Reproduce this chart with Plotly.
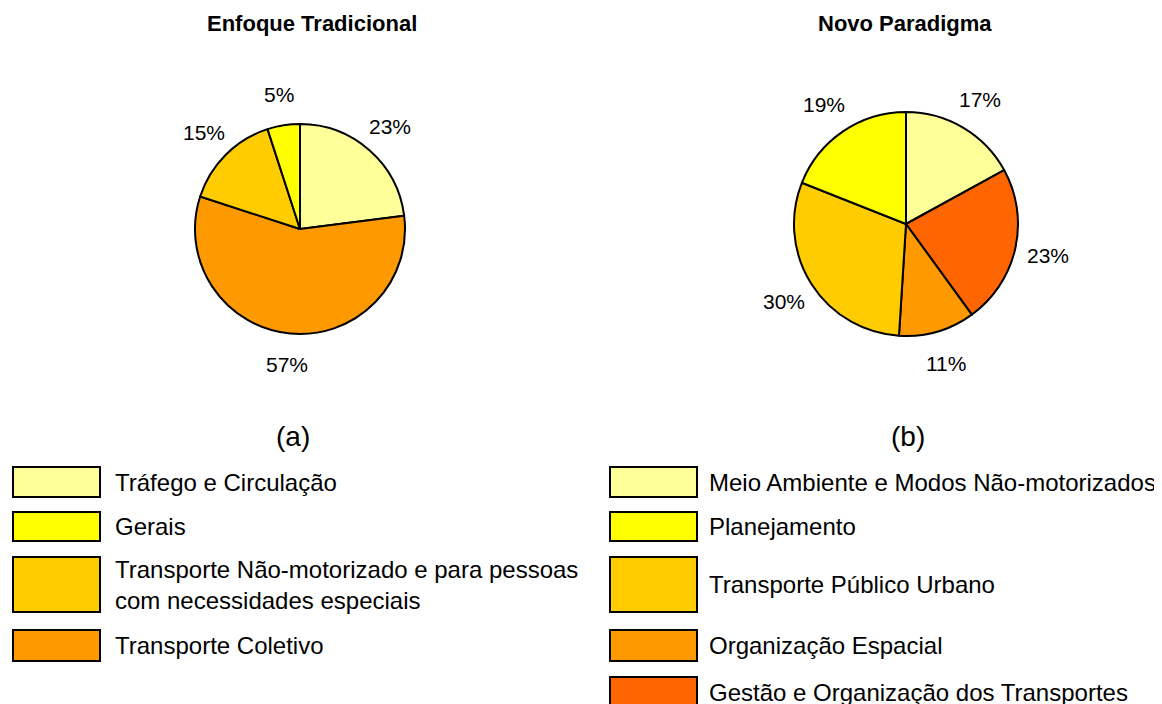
import math
import plotly.graph_objects as go

W, H = 1162, 704
OFF = 8  # page body margin in the browser

# Data
left_labels = ["Tráfego e Circulação", "Transporte Coletivo",
               "Transporte Não-motorizado e para pessoas<br>com necessidades especiais", "Gerais"]
left_values = [23, 57, 15, 5]
left_colors = ["#FFFF99", "#FF9900", "#FFCC00", "#FFFF00"]

right_labels = ["Meio Ambiente e Modos Não-motorizados", "Gestão e Organização dos Transportes",
                "Organização Espacial", "Transporte Público Urbano", "Planejamento"]
right_values = [17, 23, 11, 30, 19]
right_colors = ["#FFFF99", "#FF6600", "#FF9900", "#FFCC00", "#FFFF00"]

left_legend_order = [0, 3, 2, 1]
right_legend_order = [0, 4, 3, 2, 1]

FONT = "Liberation Sans, Arial, sans-serif"


def px(x):
    return (x - OFF) / W


def py(y):
    return 1 - (y - OFF) / H


fig = go.Figure()

annotations = []
shapes = []


def add_pie(labels, values, colors, cx, cy, r, label_gap):
    fig.add_trace(go.Pie(
        labels=labels, values=values, sort=False, direction="clockwise", rotation=0,
        marker=dict(colors=colors, line=dict(color="black", width=2)),
        textinfo="none",
        domain=dict(x=[px(cx - r), px(cx + r)], y=[py(cy + r), py(cy - r)]),
        showlegend=False, hoverinfo="label+percent",
    ))
    total = sum(values)
    cum = 0
    for v in values:
        mid = (cum + v / 2) / total * 2 * math.pi
        cum += v
        lx = cx + (r + label_gap) * math.sin(mid)
        ly = cy - (r + label_gap) * math.cos(mid)
        annotations.append(dict(text=f"{round(v / total * 100)}%", x=px(lx), y=py(ly),
                                xref="paper", yref="paper", xanchor="center", yanchor="middle",
                                showarrow=False, font=dict(family=FONT, size=21, color="black")))


add_pie(left_labels, left_values, left_colors, 300, 229, 105, 31)
add_pie(right_labels, right_values, right_colors, 906, 224, 112, 33)

# Titles
for txt, x, y, size in [("<b>Enfoque Tradicional</b>", 312, 24, 22),
                        ("<b>Novo Paradigma</b>", 905, 24, 22),
                        ("(a)", 293, 436, 28),
                        ("(b)", 908, 436, 28)]:
    annotations.append(dict(text=txt, x=px(x), y=py(y), xref="paper", yref="paper",
                            xanchor="center", yanchor="middle", showarrow=False,
                            font=dict(family=FONT, size=size, color="black")))

# Legends
left_rows = [(467, 497), (512, 541), (557, 612), (630, 661)]
right_rows = [(467, 497), (512, 541), (557, 612), (630, 661), (677, 708)]


def add_legend(order, labels, colors, rows, x0, x1, tx):
    for idx, (y0, y1) in zip(order, rows):
        shapes.append(dict(type="rect", xref="paper", yref="paper",
                           x0=px(x0), x1=px(x1), y0=py(y1), y1=py(y0),
                           fillcolor=colors[idx], line=dict(color="black", width=2)))
        annotations.append(dict(text=labels[idx], x=px(tx), y=py((y0 + y1) / 2),
                                xref="paper", yref="paper", xanchor="left", yanchor="middle",
                                align="left", showarrow=False,
                                font=dict(family=FONT, size=24, color="black")))


add_legend(left_legend_order, left_labels, left_colors, left_rows, 13, 100, 113)
add_legend(right_legend_order, right_labels, right_colors, right_rows, 610, 697, 707)

fig.update_layout(
    width=W, height=H, margin=dict(l=0, r=0, t=0, b=0),
    paper_bgcolor="white", plot_bgcolor="white",
    annotations=annotations, shapes=shapes, showlegend=False,
)

fig.write_html("out.html")
